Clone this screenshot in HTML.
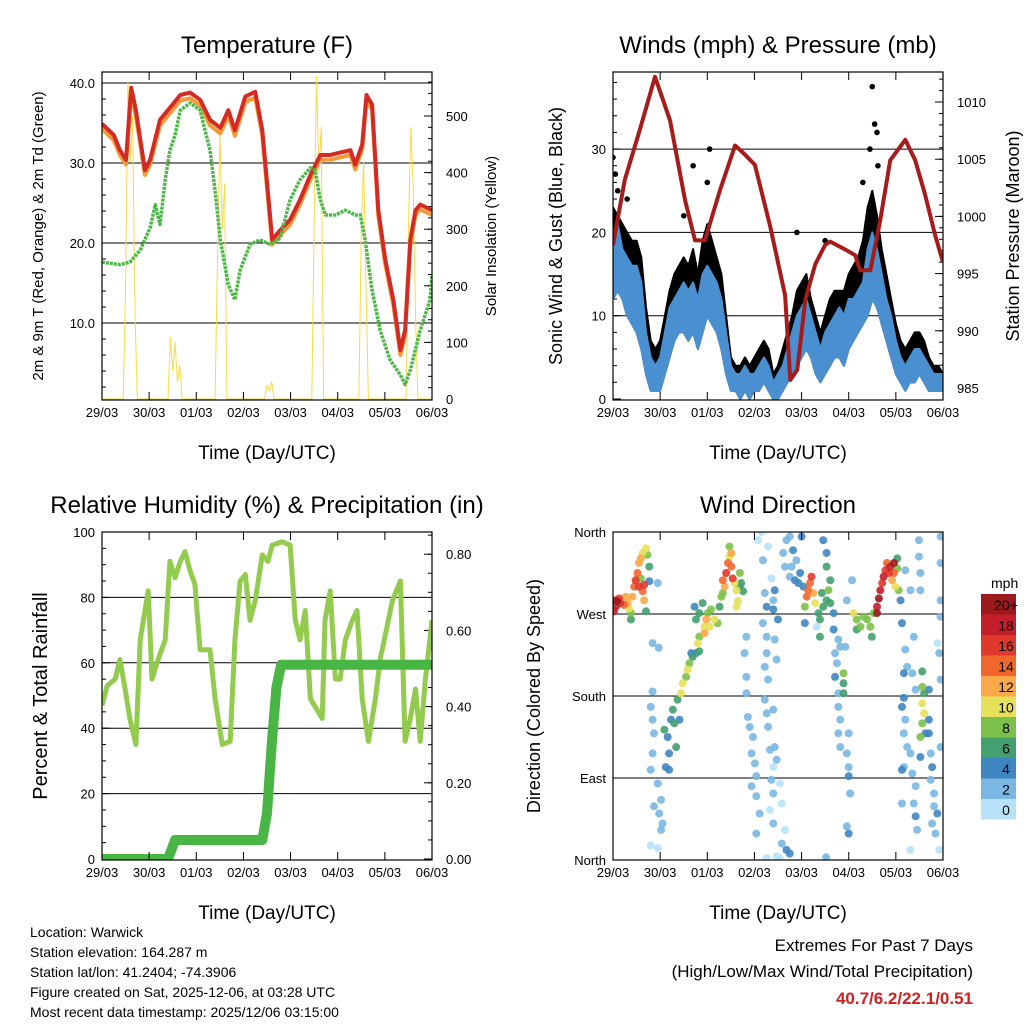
<!DOCTYPE html>
<html><head><meta charset="utf-8"><style>
body{margin:0;background:#fff;}
svg{display:block;font-family:"Liberation Sans",sans-serif;}
</style></head><body>
<svg id="c" width="1024" height="1024" viewBox="0 0 1024 1024">
<defs>
<clipPath id="k1"><rect x="102" y="72" width="330" height="328"/></clipPath>
<clipPath id="k2"><rect x="613" y="72" width="330" height="328"/></clipPath>
<clipPath id="k3"><rect x="102" y="532" width="330" height="328"/></clipPath>
<clipPath id="k4"><rect x="613" y="532" width="330" height="328"/></clipPath>
</defs>
<g id="g1"></g>
<g id="g2"></g>
<g id="g3"></g>
<g id="g4"></g>
<g font-size="14" fill="#000">
<text x="30" y="937">Location: Warwick</text>
<text x="30" y="957">Station elevation: 164.287 m</text>
<text x="30" y="977">Station lat/lon: 41.2404; -74.3906</text>
<text x="30" y="997">Figure created on Sat, 2025-12-06, at 03:28 UTC</text>
<text x="30" y="1017">Most recent data timestamp: 2025/12/06 03:15:00</text>
</g>
<g text-anchor="end">
<text x="973" y="951" font-size="17">Extremes For Past 7 Days</text>
<text x="973" y="977" font-size="17">(High/Low/Max Wind/Total Precipitation)</text>
<text x="973" y="1004" font-size="17" font-weight="bold" fill="#cc2222">40.7/6.2/22.1/0.51</text>
</g>
</svg>
<script>
const dayLabels=["29/03","30/03","01/03","02/03","03/03","04/03","05/03","06/03"];
const tDay=[0,.25,.38,.51,.62,.72,.91,1.02,1.23,1.44,1.66,1.87,2.08,2.29,2.51,2.68,2.82,3.04,3.25,3.40,3.61,3.78,3.99,4.20,4.42,4.63,4.84,5.05,5.27,5.37,5.52,5.61,5.73,5.86,6.01,6.18,6.33,6.43,6.54,6.65,6.75,7.0];
const temp2m=[34.9,33.5,31.6,30.4,39.4,36.6,29.1,30.4,35.4,36.9,38.5,38.8,37.9,35.4,34.4,36.6,34.1,38.3,38.9,34.1,20.4,21.6,22.9,25.4,28.5,31,31,31.3,31.6,29.8,32.3,38.5,37.3,24.1,17.9,12.9,6.6,9.1,20.4,24.1,24.8,24.1];
const temp9m=[34.3,32.8,31.0,29.8,38.6,35.9,28.5,29.8,34.7,36.2,37.8,38.1,37.2,34.7,33.7,35.9,33.4,37.6,38.2,33.4,19.8,21.0,22.3,24.8,27.9,30.4,30.4,30.7,31.0,29.2,31.7,37.8,36.6,23.4,17.3,12.3,6.0,8.5,19.8,23.5,24.2,23.5];
const tdDay=[0,.38,.59,.81,1.02,1.13,1.23,1.34,1.44,1.55,1.66,1.87,2.08,2.29,2.40,2.51,2.68,2.82,2.93,3.14,3.35,3.57,3.78,3.99,4.20,4.42,4.52,4.63,4.74,4.95,5.16,5.37,5.48,5.58,5.73,5.90,6.11,6.33,6.43,6.54,6.75,6.96,7.0];
const dewF=[17.6,17.3,17.6,19.1,21.9,24.8,22.3,27.9,31.6,33.5,36.6,37.5,36.6,31.6,26.6,20.4,14.8,12.9,16.6,19.8,20.4,19.8,20.6,25.4,27.9,29.4,29.1,25.4,23.5,23.5,24.1,23.5,23.5,20.4,14.1,9.1,5.4,3.5,2.3,4.1,9.1,12.9,16];
const solDay=[0,.45,.5,.55,.6,.65,.7,.75,1.4,1.45,1.5,1.55,1.6,1.65,1.7,2.4,2.45,2.5,2.55,2.6,2.65,3.45,3.5,3.55,3.6,3.65,4.45,4.5,4.55,4.6,4.65,4.7,5.45,5.5,5.55,5.6,5.65,6.45,6.5,6.55,6.6,6.65,6.7,7];
const solarW=[0,0,200,560,420,500,150,0,0,110,50,100,30,60,0,0,250,470,300,380,0,0,25,15,30,0,0,300,570,400,480,0,0,300,420,200,0,0,300,480,380,150,0,0];
const windDay=[0,.1,.2,.3,.4,.5,.6,.7,.8,.9,1,1.1,1.2,1.3,1.4,1.5,1.6,1.7,1.8,1.9,2,2.1,2.2,2.3,2.4,2.5,2.6,2.7,2.8,2.9,3,3.1,3.2,3.3,3.4,3.5,3.6,3.7,3.8,3.9,4,4.1,4.2,4.3,4.4,4.5,4.6,4.7,4.8,4.9,5,5.1,5.2,5.3,5.4,5.5,5.6,5.7,5.8,5.9,6,6.1,6.2,6.3,6.4,6.5,6.6,6.7,6.8,6.9,7];
const windLo=[12,13,12,10,9,8,6,3,1,1,1,3,5,7,8,8,7,8,6,8,10,9,8,6,3,1,1,0,1,0,1,1,2,1,0,0,1,2,3,4,5,6,5,3,2,3,4,5,5,4,6,7,8,9,10,12,11,9,7,5,3,2,1,2,2,3,2,1,1,1,1];
const windHi=[20,21,18,17,16,16,14,8,5,4,5,8,11,12,13,14,13,14,12,15,16,15,14,12,8,4,3,3,4,3,3,4,5,4,2,3,4,6,8,10,11,12,10,8,6,8,9,10,11,10,12,12,13,14,18,20,18,15,12,10,7,5,4,5,6,6,5,4,3,3,3];
const gustHi=[23,22,21,20,19,19,17,11,7,6,7,10,13,15,16,17,16,18,15,19,21,19,17,15,10,5,4,4,5,4,5,6,7,6,3,4,6,8,10,13,14,15,12,10,8,10,12,13,13,13,15,16,17,19,23,25,22,18,15,12,9,7,6,7,8,8,7,5,4,4,3];
const peakDay=[0,.05,.1,.3,1.5,1.7,2.0,2.05,3.9,4.5,5.3,5.45,5.5,5.55,5.6,5.62];
const peakGust=[29,27,25,24,22,28,26,30,20,19,26,30,37.5,33,32,28];
const presDay=[0,.25,.57,.89,1.21,1.53,1.74,1.95,2.27,2.59,2.80,3.01,3.33,3.65,3.76,3.91,4.08,4.29,4.50,4.61,4.93,5.14,5.24,5.46,5.67,5.88,6.20,6.41,6.62,6.83,7.0];
const presMb=[997.5,1003.2,1007.6,1012.2,1008.4,1001.4,997.9,997.9,1002.3,1006.2,1005.4,1004.5,999.2,993.1,985.7,986.6,992.7,995.8,997.5,997.8,997.1,996.6,995.3,995.3,999.7,1004.9,1006.7,1004.9,1001.9,998.4,996];
const rhDay=[0,.11,.28,.38,.49,.59,.72,.81,.98,1.06,1.19,1.34,1.44,1.55,1.66,1.76,1.87,1.97,2.08,2.29,2.40,2.55,2.72,2.82,2.93,3.04,3.14,3.25,3.40,3.52,3.61,3.82,3.99,4.10,4.20,4.31,4.42,4.67,4.73,4.84,4.95,5.05,5.16,5.31,5.41,5.52,5.65,5.80,5.90,6.03,6.16,6.33,6.43,6.54,6.65,6.75,6.86,7.0];
const rhPct=[47,53,55,61,52,43,35,67,82,55,61,67,91,86,91,94,88,84,64,64,49,35,36,67,85,87,73,79,93,91,96,97,96,73,67,76,49,43,73,82,55,55,67,73,76,49,36,49,61,70,79,85,36,43,52,36,55,73];
const precDay=[0,1.4,1.55,3.4,3.5,3.6,3.7,3.8,7];
const precIn=[0,0,0.05,0.05,0.12,0.3,0.45,0.51,0.51];
const dirObs=[[0.02,285,18],[0.09,284,20],[0.16,282,16],[0.23,280,14],[0.06,278,18],[0.13,287,16],[0.31,282,12],[0.34,276,10],[0.38,271,8],[0.38,264,6],[0.27,289,12],[0.02,273,18],
[.41,289,12],[.45,300,14],[.48,307,16],[.52,315,14],[.55,326,12],[.59,331,12],[.63,337,10],[.70,342,10],[.73,335,8],[.77,322,6],[.77,306,4],[.66,302,16],[.63,295,14],[.59,309,8],[.70,273,6],[.66,285,12],[.55,300,16],
[.95,304,2],[.84,238,2],[.97,233,2],[.84,185,2],[.80,168,2],[.84,154,2],[.87,139,2],[.84,117,2],[.80,99,2],[.95,84,2],[1.02,66,2],[.98,51,2],[1.05,40,2],[1.02,33,2],[.80,16,0],[.95,13,0],[.87,59,2],
[1.12,102,4],[1.19,117,4],[1.16,135,4],[1.09,143,6],[1.23,154,4],[1.30,150,6],[1.27,165,6],[1.37,176,6],[1.44,183,10],[1.48,194,10],[1.55,201,8],[1.58,209,10],[1.62,216,8],[1.69,223,6],[1.76,227,4],[1.80,238,10],[1.83,245,8],[1.73,278,4],[1.76,264,6],[1.83,271,6],[1.90,282,6],[1.94,256,10],[1.98,264,12],[2.05,256,10],[2.08,275,8],[2.15,264,10],[2.22,260,8],[2.26,278,6],[2.30,289,8],[2.33,293,8],[1.19,99,4],[1.34,124,6],[1.41,154,4],[1.66,227,4],[1.83,229,6],[1.94,249,12],[2.01,271,8],
[2.33,307,14],[2.40,315,16],[2.44,326,14],[2.47,333,10],[2.51,322,14],[2.54,309,16],[2.58,304,10],[2.62,296,10],[2.65,284,10],[2.69,315,8],[2.69,300,6],[2.72,304,6],[2.76,295,6],[2.47,344,8],[2.37,300,12],[2.51,337,12],[2.62,278,10],
[2.83,245,2],[2.79,227,2],[2.83,201,2],[2.83,183,2],[2.86,157,2],[2.90,146,2],[2.97,135,2],[2.94,117,2],[3.01,106,2],[3.04,92,2],[2.94,81,2],[3.04,70,2],[3.11,51,2],[3.04,29,2],[3.15,360,0],[3.18,329,2],[3.22,293,2],[3.18,260,2],[3.26,245,2],[3.26,227,2],[3.22,212,2],[3.29,198,2],[3.22,176,2],[3.26,161,2],[3.29,146,2],[3.33,121,2],[3.40,102,0],[3.36,88,2],[3.40,73,2],[3.33,55,0],[3.40,40,2],[3.26,2,0],[3.58,18,2],[3.68,11,4],[3.75,7,4],[3.54,2,0],[3.47,4,0],[3.65,33,0],[3.54,84,0],[3.58,62,0],[3.47,110,2],[3.43,124,2],[3.40,165,2],[3.43,242,2],[3.47,220,2],[3.40,275,4],[3.43,296,4],[3.40,285,2],[3.26,278,4],[3.50,264,4],[3.08,351,0],[3.29,344,0],[3.36,309,0],
[3.61,337,2],[3.68,351,2],[3.75,355,2],[3.82,340,4],[3.79,322,2],[3.86,307,4],[3.93,304,4],[3.97,315,4],[4.00,355,4],[3.89,329,2],[3.75,311,2],[3.65,322,2],[4.04,300,4],[4.11,289,14],[4.14,296,14],[4.18,304,14],[4.21,311,16],[4.07,278,8],[4.25,293,12],[4.29,282,10],[4.36,271,6],[4.39,264,6],[4.39,245,6],[4.43,293,6],[4.46,278,6],[4.53,285,6],[4.57,296,8],[4.61,307,6],[4.53,337,4],[4.53,322,6],[4.61,282,6],[4.68,271,4],[4.68,253,4],[4.78,242,2],[4.82,234,2],[4.71,227,2],[4.75,216,2],[4.71,201,4],[4.89,205,8],[4.89,194,6],[4.89,183,6],[4.78,183,2],[4.78,168,2],[4.82,154,2],[4.78,139,2],[4.82,124,2],[5.00,139,2],[4.96,117,2],[5.00,102,2],[5.03,73,2],[5.00,92,4],[4.96,37,2],[5.00,29,4],[4.52,3,2],[4.07,260,4],[4.32,256,0],[4.46,351,4],
[5.10,271,10],[5.17,264,8],[5.25,256,8],[5.32,267,8],[5.39,264,8],[5.46,256,8],[5.49,245,6],[5.53,271,8],[5.17,253,6],[5.07,307,2],[4.96,285,2],[4.93,234,2],
[5.60,278,18],[5.64,287,20],[5.67,296,18],[5.71,304,16],[5.74,311,18],[5.78,318,16],[5.81,326,14],[5.85,315,16],[5.88,322,18],[5.92,307,12],[5.96,315,14],[5.99,300,10],[6.03,320,8],[6.03,331,6],[5.96,326,20],[6.06,296,8],[5.60,271,20],
[6.10,285,4],[6.13,260,4],[6.20,318,2],[6.31,296,2],[6.38,245,2],[6.20,231,2],[6.17,205,4],[6.24,212,2],[6.35,205,2],[6.42,187,2],[6.56,207,6],[6.56,190,8],[6.60,183,6],[6.56,172,10],[6.60,161,10],[6.56,150,8],[6.63,139,4],[6.70,187,4],[6.70,154,4],[6.70,139,4],[6.52,135,8],[6.17,178,4],[6.13,168,4],[6.20,154,2],[6.17,139,2],[6.24,124,2],[6.31,117,2],[6.17,102,2],[6.35,95,2],[6.42,81,2],[6.38,62,2],[6.42,48,4],[6.45,33,2],[6.31,11,0],[6.49,351,2],[6.49,333,2],[6.52,315,2],[6.52,296,2],[6.74,117,2],[6.77,102,4],[6.74,88,2],[6.81,73,2],[6.81,59,2],[6.77,40,2],[6.84,29,2],[6.92,11,0],[6.95,355,2],[6.95,326,2],[6.95,285,2],[6.95,267,2],[6.88,238,0],[6.92,227,2],[6.95,198,2],[6.95,124,2],[6.88,51,4],[6.13,62,2],[6.13,99,4],[6.52,113,4]];
const spdLabels=["20+","18","16","14","12","10","8","6","4","2","0"];
const spdColors=["#9b1a1e","#c41e2a","#e0382a","#f2672e","#f9a947","#e6e15a","#7cc04a","#44a06e","#3f86c0","#7ab7e3","#b8e2f8"];

const NS="http://www.w3.org/2000/svg";
function el(p,t,a,txt){const e=document.createElementNS(NS,t);for(const k in a)e.setAttribute(k,a[k]);if(txt!==undefined)e.textContent=txt;p.appendChild(e);return e;}
const X0={1:102,2:613,3:102,4:613},Y0={1:72,2:72,3:532,4:532};
function xs(p,d){return X0[p]+d*330/7;}
function frame(g,p,title){
  const x0=X0[p],y0=Y0[p];
  let t=el(g,"text",{x:x0+165,y:y0-19,"font-size":24,"text-anchor":"middle"},title);
  
  t=el(g,"text",{x:x0+165,y:y0+387,"font-size":19,"text-anchor":"middle"},"Time (Day/UTC)");
  
  for(let i=0;i<8;i++){const x=xs(p,i);
    const tk=el(g,"line",{x1:x,x2:x,y1:y0+328,y2:y0+320,stroke:"#000","stroke-width":1});
    
    el(g,"line",{x1:x,x2:x,y1:y0,y2:y0+8,stroke:"#000","stroke-width":1});
    const l=el(g,"text",{x:x,y:y0+345,"font-size":13,"text-anchor":"middle"},dayLabels[i]);
    }
}
function box(g,p){const b=el(g,"rect",{x:X0[p],y:Y0[p],width:330,height:328,fill:"none",stroke:"#000","stroke-width":1.2});
  }
function yaxis(g,p,vals,labs,fy,side,grid,minor){
  const x0=X0[p];
  vals.forEach((v,i)=>{const y=fy(v);
    if(grid&&y>Y0[p]+2&&y<Y0[p]+326){const gl=el(g,"line",{x1:x0,x2:x0+330,y1:y,y2:y,stroke:"#000","stroke-width":1});
      }
    const xe=side<0?x0:x0+330;
    el(g,"line",{x1:xe,x2:xe-side*8,y1:y,y2:y,stroke:"#000"});
    const l=el(g,"text",{x:side<0?x0-7:x0+344,y:y+5,"font-size":13,"text-anchor":side<0?"end":"start"},labs[i]);
    });
  if(minor)minor.forEach(v=>{const y=fy(v);const xe=side<0?x0:x0+330;el(g,"line",{x1:xe,x2:xe-side*4,y1:y,y2:y,stroke:"#000"});});
}
function rtitle(g,x,y,s,txt,name){const t=el(g,"text",{x:x,y:y,"font-size":s,"text-anchor":"middle",transform:`rotate(-90 ${x} ${y})`},txt);
  }
function poly(g,xa,ya,attrs,name){const pts=xa.map((v,i)=>v.toFixed(1)+","+ya[i].toFixed(1)).join(" ");
  const e=el(g,"polyline",Object.assign({points:pts,fill:"none","stroke-linejoin":"round"},attrs));
  return e;}
function rng(a,b,s){const r=[];for(let v=a;v<=b+1e-9;v+=s)r.push(+v.toFixed(3));return r;}

// Panel 1
{const g=document.getElementById("g1");
 const fy=v=>403-8*v, fs=w=>399-0.566*w;
 yaxis(g,1,[10,20,30,40],["10.0","20.0","30.0","40.0"],fy,-1,true,rng(2,40,2));
 yaxis(g,1,[0,100,200,300,400,500],["0","100","200","300","400","500"],fs,1,false,rng(0,560,20));
 const c=el(g,"g",{"clip-path":"url(#k1)"});
 poly(c,solDay.map(d=>xs(1,d)),solarW.map(fs),{stroke:"#f7d94a","stroke-width":1},"solar-line");
 poly(c,tDay.map(d=>xs(1,d)),temp9m.map(fy),{stroke:"#f39a3a","stroke-width":4},"temp-9m-line");
 poly(c,tDay.map(d=>xs(1,d)),temp2m.map(fy),{stroke:"#d42a24","stroke-width":4},"temp-2m-line");
 poly(c,tdDay.map(d=>xs(1,d)),dewF.map(fy),{stroke:"#4db848","stroke-width":3.5,"stroke-dasharray":"3 1"},"dewpoint-line");
 box(g,1);frame(g,1,"Temperature (F)");
 rtitle(g,43,236,15,"2m & 9m T (Red, Orange) & 2m Td (Green)","y-axis-title");
 rtitle(g,496,236,15,"Solar Insolation (Yellow)","y2-axis-title");}

// Panel 2
{const g=document.getElementById("g2");
 const fy=v=>399-8.33*v, fp=m=>388-11.44*(m-985);
 yaxis(g,2,[0,10,20,30],["0","10","20","30"],fy,-1,true,rng(0,38,2));
 yaxis(g,2,[985,990,995,1000,1005,1010],["985","990","995","1000","1005","1010"],fp,1,false,rng(985,1012,1));
 const c=el(g,"g",{"clip-path":"url(#k2)"});
 const xa=windDay.map(d=>xs(2,d));
 let gp=xa.map((x,i)=>x.toFixed(1)+","+fy(gustHi[i]).toFixed(1)).concat(xa.map((x,i)=>x.toFixed(1)+","+fy(windLo[i]).toFixed(1)).reverse());
 let e=el(c,"polygon",{points:gp.join(" "),fill:"#000",stroke:"#000","stroke-width":2,"stroke-linejoin":"round"});
 
 let bp=xa.map((x,i)=>x.toFixed(1)+","+fy(windHi[i]).toFixed(1)).concat(xa.map((x,i)=>x.toFixed(1)+","+fy(windLo[i]).toFixed(1)).reverse());
 e=el(c,"polygon",{points:bp.join(" "),fill:"#4a90d0",stroke:"#4a90d0","stroke-width":2,"stroke-linejoin":"round"});
 
 peakDay.forEach((d,i)=>{const p=el(c,"circle",{cx:xs(2,d),cy:fy(peakGust[i]),r:2.8,fill:"#000"});
   });
 poly(c,presDay.map(d=>xs(2,d)),presMb.map(fp),{stroke:"#a51c1c","stroke-width":4},"pressure-line");
 box(g,2);frame(g,2,"Winds (mph) & Pressure (mb)");
 rtitle(g,562,236,18,"Sonic Wind & Gust (Blue, Black)","y-axis-title");
 rtitle(g,1019,236,18,"Station Pressure (Maroon)","y2-axis-title");}

// Panel 3
{const g=document.getElementById("g3");
 const fy=v=>859-3.27*v, fr=v=>859-381*v;
 yaxis(g,3,[0,20,40,60,80,100],["0","20","40","60","80","100"],fy,-1,true,rng(0,100,5));
 yaxis(g,3,[0,0.2,0.4,0.6,0.8],["0.00","0.20","0.40","0.60","0.80"],fr,1,false,rng(0,0.85,0.05));
 const c=el(g,"g",{"clip-path":"url(#k3)"});
 poly(c,rhDay.map(d=>xs(3,d)),rhPct.map(fy),{stroke:"#93cb4f","stroke-width":5},"rh-line");
 poly(c,precDay.map(d=>xs(3,d)),precIn.map(fr),{stroke:"#48b545","stroke-width":10,"stroke-linecap":"round"},"precip-line");
 box(g,3);frame(g,3,"Relative Humidity (%) & Precipitation (in)");
 rtitle(g,47,696,20,"Percent & Total Rainfall","y-axis-title");}

// Panel 4
{const g=document.getElementById("g4");
 const fy=d=>860-d*328/360;
 yaxis(g,4,[0,90,180,270,360],["North","East","South","West","North"],fy,-1,true,null);
 const c=el(g,"g",{"clip-path":"url(#k4)"});
 const sorted=dirObs.slice().sort((a,b)=>a[2]-b[2]);
 sorted.forEach(o=>{const idx=Math.max(0,Math.min(10,10-Math.floor(o[2]/2)));
   const p=el(c,"circle",{cx:xs(4,o[0]),cy:fy(o[1]),r:4,fill:spdColors[idx],"fill-opacity":0.9});
   });
 box(g,4);frame(g,4,"Wind Direction");
 rtitle(g,540,696,18,"Direction (Colored By Speed)","y-axis-title");
 const lg=el(g,"g",{});
 
 el(lg,"text",{x:991,y:588,"font-size":14},"mph");
 spdLabels.forEach((s,i)=>{const y=594+i*20.5;
   const r=el(lg,"rect",{x:981,y:y,width:35,height:20.5,fill:spdColors[i]});
   
   const t=el(lg,"text",{x:1006,y:y+16,"font-size":14,"text-anchor":"middle"},s);
   });}
</script>
</body></html>
